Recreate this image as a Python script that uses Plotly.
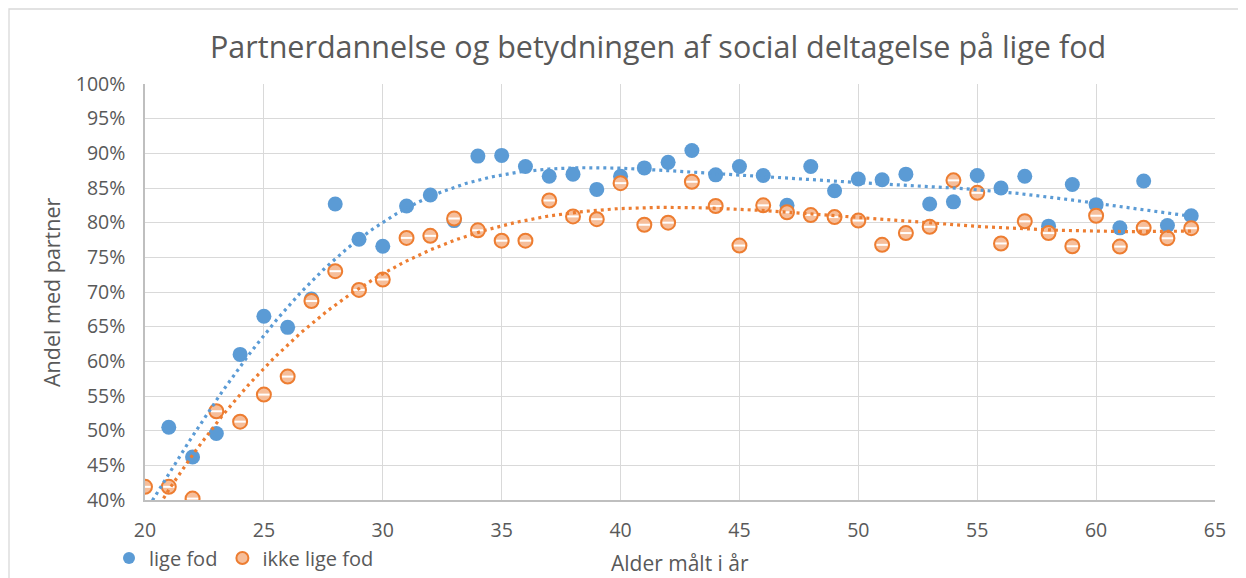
import numpy as np
import plotly.graph_objects as go

# ---- data ----
# age 20 of "lige fod" lies below the 40% axis floor (hidden, estimated from its trendline)
ages_blue = list(range(20, 65))
lige_fod = [36.0, 50.5, 46.2, 49.6, 61.0, 66.5, 64.9, 69.0, 82.7, 77.6, 76.6,
            82.4, 84.0, 80.3, 89.6, 89.7, 88.1, 86.7, 87.0, 84.8, 86.7,
            87.9, 88.7, 90.4, 86.9, 88.1, 86.8, 82.5, 88.1, 84.6, 86.3,
            86.2, 87.0, 82.7, 83.0, 86.8, 85.0, 86.7, 79.5, 85.5, 82.6,
            79.25, 86.0, 79.6, 81.0]

ages_orange = list(range(20, 65))
ikke_lige_fod = [41.9, 41.9, 40.2, 52.8, 51.3, 55.2, 57.8, 68.7, 73.0, 70.3,
                 71.8, 77.8, 78.1, 80.6, 78.9, 77.4, 77.4, 83.2, 80.9, 80.5,
                 85.7, 79.7, 80.0, 85.9, 82.4, 76.7, 82.5, 81.5, 81.1, 80.8,
                 80.3, 76.8, 78.5, 79.4, 86.1, 84.3, 77.0, 80.2, 78.5, 76.6,
                 81.0, 76.55, 79.25, 77.75, 79.2]

x_ticks = [20, 25, 30, 35, 40, 45, 50, 55, 60, 65]
y_ticks = [40, 45, 50, 55, 60, 65, 70, 75, 80, 85, 90, 95, 100]

BLUE = "#5B9BD5"
ORANGE = "#ED7D31"
TXT = "#595959"
FONT = "Open Sans"

# polynomial trendlines, computed from the data
def trend(x, y, deg):
    p = np.polynomial.Polynomial.fit(np.array(x, float), np.array(y, float), deg)
    xs = np.linspace(min(x), max(x), 400)
    return xs, p(xs)

tbx, tby = trend(ages_blue, lige_fod, 6)
tox, toy = trend(ages_orange, ikke_lige_fod, 4)

fig = go.Figure()
fig.add_trace(go.Scatter(x=ages_blue, y=lige_fod, mode="markers", name="lige fod",
                         marker=dict(color=BLUE, size=15, line=dict(width=0))))
fig.add_trace(go.Scatter(x=ages_orange, y=ikke_lige_fod, mode="markers", name="ikke lige fod",
                         marker=dict(color="#F6BE9A", size=14, line=dict(color=ORANGE, width=2))))
fig.add_trace(go.Scatter(x=ages_orange, y=ikke_lige_fod, mode="markers", showlegend=False,
                         hoverinfo="skip",
                         marker=dict(symbol="line-ew", size=8, color="white",
                                     line=dict(color="white", width=2))))
fig.add_trace(go.Scatter(x=tbx, y=tby, mode="lines", showlegend=False, hoverinfo="skip",
                         line=dict(color=BLUE, width=3.2, dash="3px,4px")))
fig.add_trace(go.Scatter(x=tox, y=toy, mode="lines", showlegend=False, hoverinfo="skip",
                         line=dict(color=ORANGE, width=3.2, dash="3px,4px")))

# page body has an 8px margin: figure pixel = screenshot pixel - 8
OFF = 8
W, H = 1246 - OFF, 578 - OFF
L, T = 145 - OFF, 84 - OFF
pw, ph = 1070, 416
R, B = W - L - pw, H - T - ph

def px(xs):
    return (xs - OFF - L) / pw

def py(ys):
    return (T + ph - (ys - OFF)) / ph

fig.update_layout(
    width=W, height=H,
    margin=dict(l=L, r=R, t=T, b=B, autoexpand=False),
    paper_bgcolor="white", plot_bgcolor="white",
    font=dict(family=FONT, color=TXT, size=19.5),
    showlegend=True,
    legend=dict(orientation="h", x=px(109), y=py(558), xanchor="left", yanchor="middle",
                font=dict(size=20, color=TXT), itemsizing="constant",
                bgcolor="rgba(0,0,0,0)", tracegroupgap=0, itemwidth=30),
    xaxis=dict(range=[20, 65], tickvals=x_ticks, ticktext=[str(v) for v in x_ticks],
               showgrid=True, gridcolor="#D9D9D9", gridwidth=1.3,
               showline=True, linecolor="#BFBFBF", linewidth=1.5,
               zeroline=False, ticks="", ticklabelstandoff=12,
               tickfont=dict(size=19.5, color=TXT), fixedrange=True),
    yaxis=dict(range=[40, 100], tickvals=y_ticks, ticktext=[f"{v}%" for v in y_ticks],
               showgrid=True, gridcolor="#D9D9D9", gridwidth=1.3,
               showline=True, linecolor="#BFBFBF", linewidth=1.5,
               zeroline=False, ticks="", ticklabelstandoff=14,
               tickfont=dict(size=19.5, color=TXT), fixedrange=True),
    annotations=[
        dict(text="Partnerdannelse og betydningen af social deltagelse på lige fod",
             x=px(657.5), y=py(46), xref="paper", yref="paper", showarrow=False,
             xanchor="center", yanchor="middle", font=dict(size=30.5, color=TXT, family=FONT)),
        dict(text="Alder målt i år", x=px(680), y=py(563), xref="paper", yref="paper",
             showarrow=False, xanchor="center", yanchor="middle",
             font=dict(size=21, color=TXT, family=FONT)),
        dict(text="Andel med partner", x=px(51), y=py(292), xref="paper", yref="paper",
             showarrow=False, xanchor="center", yanchor="middle", textangle=-90,
             font=dict(size=21.5, color=TXT, family=FONT)),
    ],
    shapes=[dict(type="rect", xref="paper", yref="paper",
                 x0=px(9), x1=px(1270), y0=py(620), y1=py(9),
                 line=dict(color="#D9D9D9", width=1.3), fillcolor="rgba(0,0,0,0)", layer="below")],
)

fig.write_html("out.html")
